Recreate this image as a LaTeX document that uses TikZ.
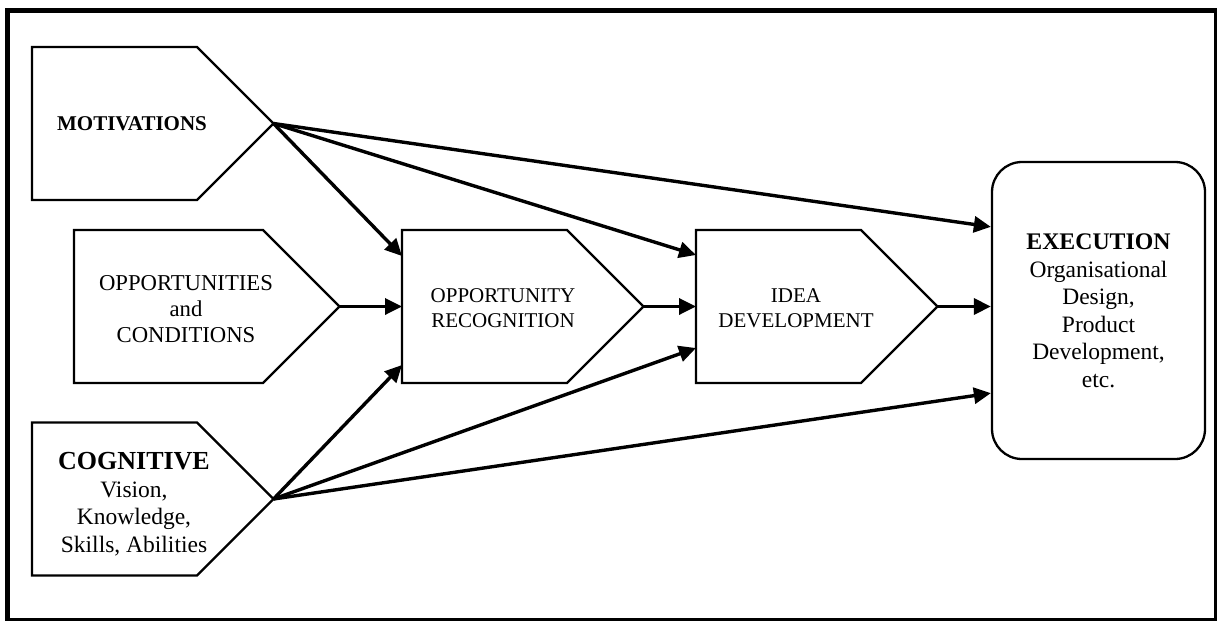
\documentclass[tikz,border=0pt]{standalone}
\usepackage{fontspec}
\setmainfont{Liberation Serif}
\usetikzlibrary{arrows.meta,calc}
% pentagon outline around a rectangular node, with a 90-degree point on its east side
\newcommand\drawpent[1]{%
  \draw[outline] (#1.north west) -- (#1.north east)
    -- ($(#1.east)+(76.5,0)$) coordinate (#1-tip)
    -- (#1.south east) -- (#1.south west) -- cycle;}
\begin{document}
\begin{tikzpicture}[x=1pt,y=1pt,
  box/.style={draw=none, minimum width=165pt, minimum height=153pt, inner sep=0pt, outer sep=0pt},
  outline/.style={line width=2.3pt, line join=miter},
  link/.style={line width=3.4pt, -{Triangle[length=17pt,width=16pt]}},
  lbl/.style={align=center, inner sep=0pt},
  regular/.style={font=\fontsize{23.5}{27.5}\selectfont},
]
\useasboundingbox (0,0) rectangle (1220,-621);

% surrounding frame, heavier on the left and top
\draw[line width=2.5pt] (9,-10) rectangle (1215.5,-619.5);
\draw[line width=5pt] (7.5,-620.5) -- (7.5,-10) -- (1216.5,-10);

% boxes
\node[box] (mot) at (114.5,-123.5) {};
\node[box] (cog) at (114.5,-499) {};
\node[box, minimum width=189pt] (opp) at (168.5,-306.5) {};
\node[box] (orc) at (484.5,-306.5) {};
\node[box] (idea) at (778.5,-306.5) {};
\drawpent{mot}
\drawpent{cog}
\drawpent{opp}
\drawpent{orc}
\drawpent{idea}
\node[draw, outline, rounded corners=30pt, minimum width=213pt, minimum height=297pt,
      inner sep=0pt] (exec) at (1098.5,-310.5) {};

% labels
\node[lbl, font=\bfseries\fontsize{21}{25}\selectfont] (mot-text) at (132,-124) {MOTIVATIONS};
\node[lbl, font=\fontsize{22.7}{26}\selectfont] (opp-text) at (186,-309)
  {OPPORTUNITIES\\and\\CONDITIONS};
\node[lbl, regular] (cog-text) at (134,-504)
  {{\bfseries\fontsize{26}{30}\selectfont COGNITIVE}\\Vision,\\Knowledge,\\Skills, Abilities};
\node[lbl, font=\fontsize{21}{25}\selectfont] (orc-text) at (503,-308)
  {OPPORTUNITY\\RECOGNITION};
\node[lbl, font=\fontsize{21}{25}\selectfont] (idea-text) at (796,-308)
  {IDEA\\DEVELOPMENT};
\node[lbl, regular] (exec-text) at (1098.5,-311)
  {{\bfseries\fontsize{23.8}{27.5}\selectfont EXECUTION}\\Organisational\\Design,\\Product\\Development,\\etc.};

% connectors
\draw[link] (mot-tip) -- ([yshift=-26pt]orc.north west);
\draw[link] (mot-tip) -- ([yshift=-25pt]idea.north west);
\draw[link] (mot-tip) -- ([yshift=-66pt]exec.north west);
\draw[link] (opp-tip) -- (orc.west);
\draw[link] (orc-tip) -- (idea.west);
\draw[link] (idea-tip) -- (idea-tip -| exec.west);
\draw[link] (cog-tip) -- ([yshift=18pt]orc.south west);
\draw[link] (cog-tip) -- ([yshift=35pt]idea.south west);
\draw[link] (cog-tip) -- ([yshift=67pt]exec.south west);
\end{tikzpicture}
\end{document}
